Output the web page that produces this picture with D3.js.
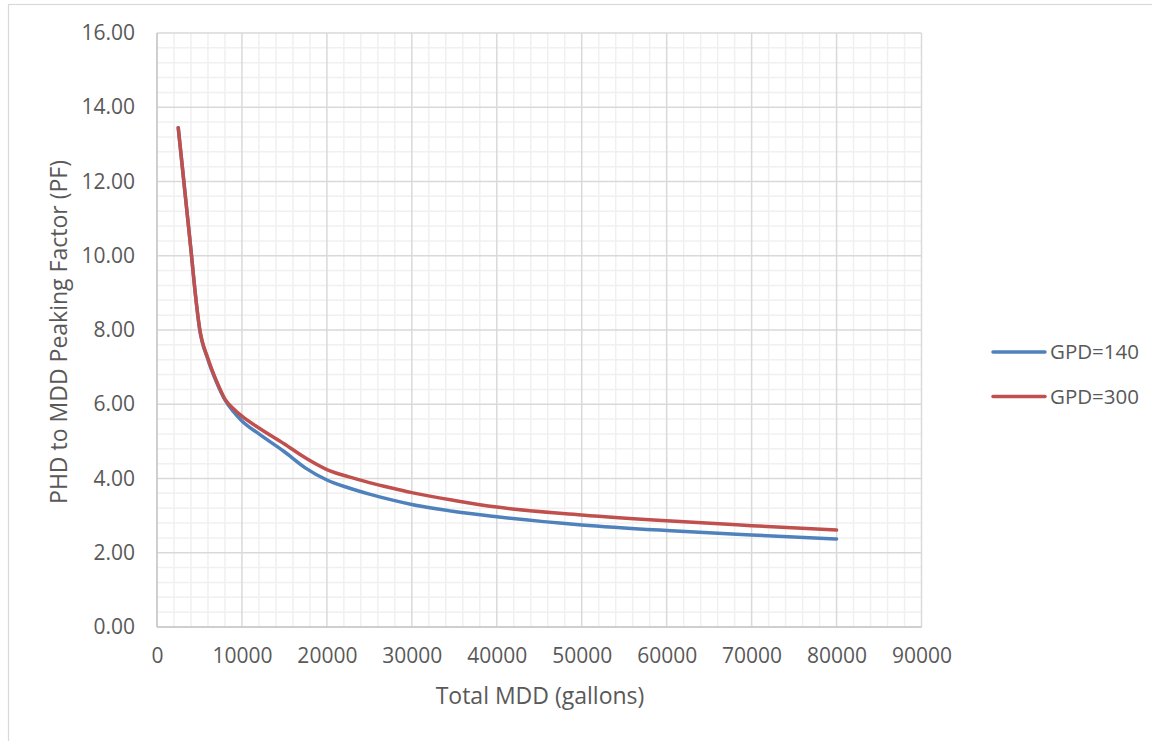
<!DOCTYPE html>
<html>
<head>
<meta charset="utf-8">
<script src="https://cdn.jsdelivr.net/npm/d3@7"></script>
<style>
  body { margin: 0; background: #fff; }
  text { font-family: "Open Sans", "Noto Sans", sans-serif; fill: #595959; }
</style>
</head>
<body>
<svg id="chart" width="1152" height="741"></svg>
<script>
// ---- data ----
const mdd = [2500, 3000, 3500, 4000, 4500, 5000, 6000, 7000, 8000, 9000, 10000, 12000, 15000, 17500, 20000, 22500, 25000, 27500, 30000, 35000, 40000, 50000, 60000, 70000, 80000];
const gpd140 = [13.45, 12.35, 11.25, 10.15, 9.00, 8.05, 7.20, 6.60, 6.12, 5.80, 5.55, 5.20, 4.72, 4.28, 3.96, 3.75, 3.58, 3.43, 3.30, 3.11, 2.97, 2.75, 2.60, 2.48, 2.37];
const gpd300 = [13.45, 12.35, 11.25, 10.15, 9.00, 8.07, 7.23, 6.63, 6.14, 5.88, 5.68, 5.36, 4.93, 4.55, 4.24, 4.05, 3.89, 3.75, 3.62, 3.41, 3.23, 3.02, 2.86, 2.73, 2.61];
const seriesNames = ["GPD=140", "GPD=300"];
const seriesColors = ["#4F81BD", "#C0504D"];
const xTicks = [0, 10000, 20000, 30000, 40000, 50000, 60000, 70000, 80000, 90000];
const yTicks = [0, 2, 4, 6, 8, 10, 12, 14, 16];
const xTitle = "Total MDD (gallons)";
const yTitle = "PHD to MDD Peaking Factor (PF)";

const svg = d3.select("#chart");

// outer chart border
svg.append("rect").attr("x", 8.5).attr("y", 4.5).attr("width", 1160).attr("height", 760)
  .attr("fill", "none").attr("stroke", "#d9d9d9").attr("stroke-width", 1.2);

const pL = 157, pR = 921.5, pT = 33, pB = 627;
const x = d3.scaleLinear().domain([0, 90000]).range([pL, pR]);
const y = d3.scaleLinear().domain([0, 16]).range([pB, pT]);

// minor grid
const g = svg.append("g");
const minorX = d3.range(0, 90001, 2000).filter(v => v % 10000 !== 0);
const minorY = d3.range(0, 16.001, 0.4).filter(v => Math.abs(v / 2 - Math.round(v / 2)) > 1e-6);
g.selectAll(".mx").data(minorX).join("line")
  .attr("x1", d => x(d)).attr("x2", d => x(d)).attr("y1", pT).attr("y2", pB)
  .attr("stroke", "#f0f0f0").attr("stroke-width", 1.5);
g.selectAll(".my").data(minorY).join("line")
  .attr("x1", pL).attr("x2", pR).attr("y1", d => y(d)).attr("y2", d => y(d))
  .attr("stroke", "#f0f0f0").attr("stroke-width", 1.5);
// major grid
g.selectAll(".Mx").data(xTicks).join("line")
  .attr("x1", d => x(d)).attr("x2", d => x(d)).attr("y1", pT).attr("y2", pB)
  .attr("stroke", "#d9d9d9").attr("stroke-width", 1.5);
g.selectAll(".My").data(yTicks).join("line")
  .attr("x1", pL).attr("x2", pR).attr("y1", d => y(d)).attr("y2", d => y(d))
  .attr("stroke", "#d9d9d9").attr("stroke-width", 1.5);
// axis lines
g.append("line").attr("x1", pL).attr("x2", pR).attr("y1", pB).attr("y2", pB)
  .attr("stroke", "#c8c8c8").attr("stroke-width", 1.5);
g.append("line").attr("x1", pL).attr("x2", pL).attr("y1", pT).attr("y2", pB)
  .attr("stroke", "#c8c8c8").attr("stroke-width", 1.5);

// axes via d3 axis (labels only)
const xAxis = svg.append("g").attr("transform", `translate(0,${pB})`)
  .call(d3.axisBottom(x).tickValues(xTicks).tickFormat(d3.format("d")).tickSize(0).tickPadding(21));
const yAxis = svg.append("g").attr("transform", `translate(${pL},0)`)
  .call(d3.axisLeft(y).tickValues(yTicks).tickFormat(d3.format(".2f")).tickSize(0).tickPadding(22));
[xAxis, yAxis].forEach(a => {
  a.select(".domain").remove();
  a.selectAll("text").style("font-family", '"Open Sans", sans-serif').style("font-size", "21px").attr("fill", "#595959");
});

// lines
const line = d3.line().x(d => x(d[0])).y(d => y(d[1])).curve(d3.curveMonotoneX);
[gpd140, gpd300].forEach((vals, i) => {
  svg.append("path").datum(mdd.map((m, j) => [m, vals[j]]))
    .attr("d", line).attr("fill", "none").attr("stroke", seriesColors[i])
    .attr("stroke-width", 3.5).attr("stroke-linecap", "round").attr("stroke-linejoin", "round");
});

// titles
svg.append("text").attr("x", 540).attr("y", 704).attr("text-anchor", "middle")
  .style("font-size", "23px").text(xTitle);
svg.append("text").attr("transform", `translate(67,${(pT + pB) / 2 + 2}) rotate(-90)`)
  .attr("text-anchor", "middle").style("font-size", "23px").text(yTitle);

// legend
const leg = svg.append("g");
seriesNames.forEach((n, i) => {
  const ly = 352 + i * 44.5;
  leg.append("line").attr("x1", 993).attr("x2", 1045).attr("y1", ly).attr("y2", ly)
    .attr("stroke", seriesColors[i]).attr("stroke-width", 3.5).attr("stroke-linecap", "round");
  leg.append("text").attr("x", 1050).attr("y", ly).attr("dy", "0.35em")
    .style("font-size", "20.5px").text(n);
});
</script>
</body>
</html>
